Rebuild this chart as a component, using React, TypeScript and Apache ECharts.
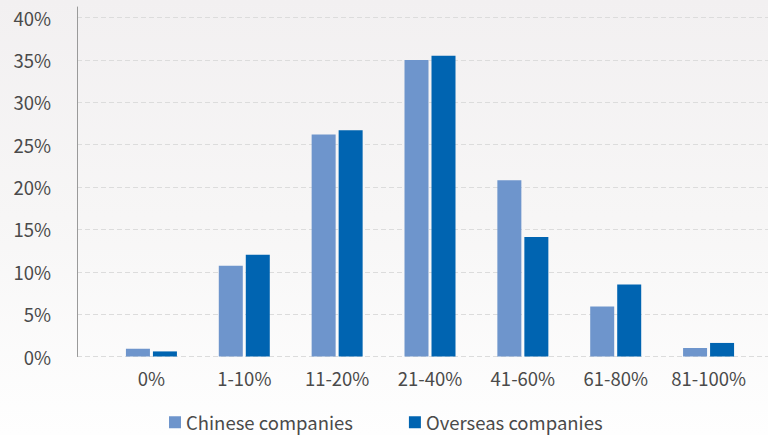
import React, { useEffect, useRef } from "react";
import * as echarts from "echarts";

const categories = ["0%", "1-10%", "11-20%", "21-40%", "41-60%", "61-80%", "81-100%"];
const chineseValues = [0.9, 10.7, 26.2, 35.0, 20.8, 5.9, 1.0];
const overseasValues = [0.6, 12.0, 26.7, 35.5, 14.1, 8.5, 1.6];
const seriesNames = ["Chinese companies", "Overseas companies"];
const yTicks = { min: 0, max: 40, interval: 5 };

const FONT = "'Noto Sans CJK SC', 'Noto Sans', sans-serif";
const TEXT = "#4a4a4a";
const FS = 18.5;

export default function App() {
  const ref = useRef<HTMLDivElement>(null);
  useEffect(() => {
    if (!ref.current) return;
    const chart = echarts.init(ref.current, null, { renderer: "svg" });
    const plotBottom = 435 - 356.5;
    chart.setOption({
      animation: false,
      backgroundColor: "transparent",
      textStyle: { fontFamily: FONT },
      grid: [
        { left: 77, right: 0, top: 7, bottom: plotBottom },
        { left: 77, right: 0, top: 17.5, bottom: plotBottom },
        { left: 105, width: 650, top: 17.5, bottom: plotBottom },
      ],
      xAxis: [
        { gridIndex: 0, type: "value", show: false },
        { gridIndex: 1, type: "value", show: false },
        {
          gridIndex: 2,
          type: "category",
          data: categories,
          axisLine: { show: false },
          axisTick: { show: false },
          axisLabel: { color: TEXT, fontSize: FS, fontFamily: FONT, margin: 12, interval: 0 },
        },
      ],
      yAxis: [
        {
          gridIndex: 0,
          type: "value",
          min: 0,
          max: 40,
          axisLine: { show: true, lineStyle: { color: "#9a9a9a", width: 1 } },
          axisTick: { show: false },
          axisLabel: { show: false },
          splitLine: { show: false },
        },
        {
          gridIndex: 1,
          type: "value",
          min: yTicks.min,
          max: yTicks.max,
          interval: yTicks.interval,
          axisLine: { show: false },
          axisTick: { show: false },
          axisLabel: {
            color: TEXT,
            fontSize: FS,
            fontFamily: FONT,
            margin: 26,
            formatter: "{value}%",
          },
          splitLine: { show: true, lineStyle: { color: "#dcdcdc", type: [5, 3], width: 1 } },
        },
        {
          gridIndex: 2,
          type: "value",
          min: yTicks.min,
          max: yTicks.max,
          interval: yTicks.interval,
          show: false,
          splitLine: { show: false },
        },
      ],
      legend: {
        left: 169,
        top: 413,
        padding: 0,
        itemWidth: 12,
        itemHeight: 12,
        itemGap: 56,
        icon: "rect",
        textStyle: { color: TEXT, fontSize: FS, fontFamily: FONT },
        data: seriesNames,
      },
      series: [
        {
          name: seriesNames[0],
          type: "bar",
          xAxisIndex: 2,
          yAxisIndex: 2,
          data: chineseValues,
          barWidth: 24,
          barGap: "12.5%",
          itemStyle: { color: "#6e95cc" },
        },
        {
          name: seriesNames[1],
          type: "bar",
          xAxisIndex: 2,
          yAxisIndex: 2,
          data: overseasValues,
          barWidth: 24,
          barGap: "12.5%",
          itemStyle: { color: "#0064b1" },
        },
      ],
    });
    return () => chart.dispose();
  }, []);
  return (
    <div
      style={{
        position: "fixed",
        left: 0,
        top: 0,
        width: 768,
        height: 435,
        background: "linear-gradient(180deg, #f2f0f1 0%, #f7f6f6 50%, #fefefe 100%)",
      }}
    >
      <div ref={ref} style={{ width: 768, height: 435 }} />
    </div>
  );
}
